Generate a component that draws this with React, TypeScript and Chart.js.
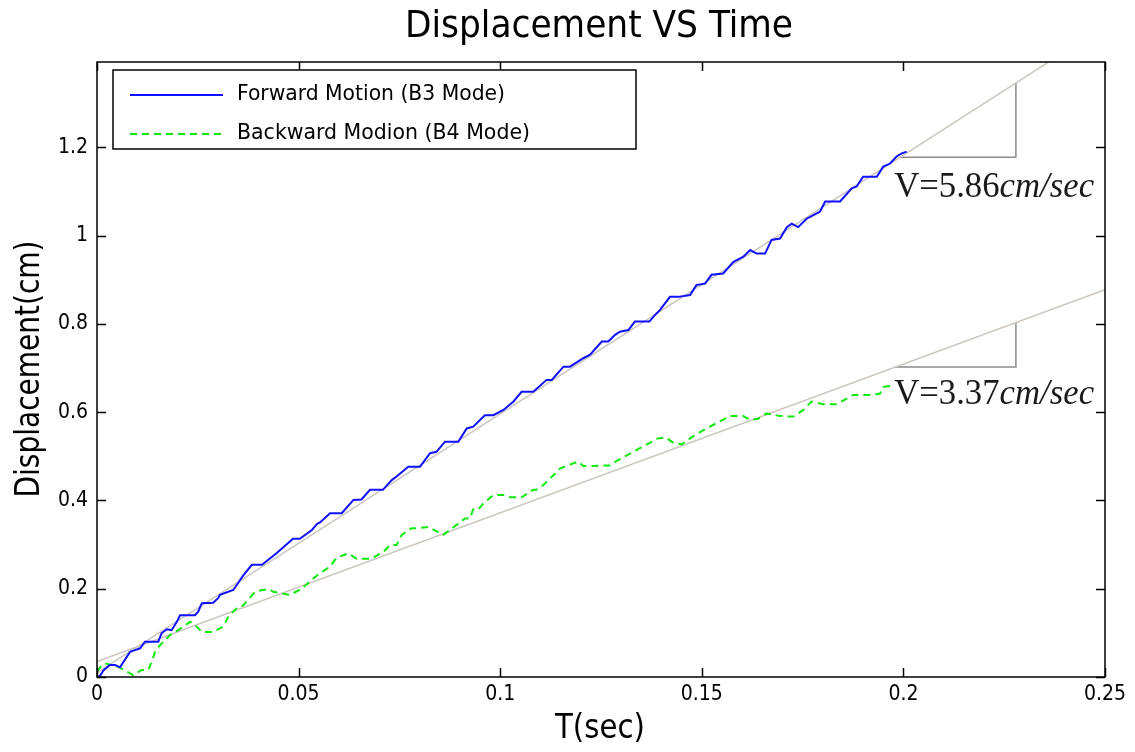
import React, { useEffect, useRef } from 'react';
import { Chart, registerables } from 'chart.js';

Chart.register(...registerables);

// ---------- data ----------
const chartTitle = 'Displacement VS Time';
const xAxisTitle = 'T(sec)';
const yAxisTitle = 'Displacement(cm)';
const timeTicks = [0, 0.05, 0.1, 0.15, 0.2, 0.25];
const dispTicks = [0, 0.2, 0.4, 0.6, 0.8, 1, 1.2];
const xMin = 0;
const xMax = 0.25;
const yMin = 0;
const yMax = 1.393;

const forwardLabel = 'Forward Motion (B3 Mode)';
const backwardLabel = 'Backward Modion (B4 Mode)';

const forwardT = [
  0, 0.0007, 0.0016, 0.0032, 0.0045, 0.0057, 0.0082, 0.0094, 0.0107, 0.0119,
  0.0152, 0.016, 0.0173, 0.0185, 0.0198, 0.0206, 0.0243, 0.0251, 0.026, 0.0288,
  0.0301, 0.0305, 0.0338, 0.035, 0.0362, 0.0384, 0.0409, 0.0446, 0.0486, 0.0503,
  0.0533, 0.0546, 0.0553, 0.0578, 0.0607, 0.0636, 0.0656, 0.0677, 0.0709, 0.0731,
  0.0743, 0.0772, 0.0801, 0.0826, 0.0842, 0.0863, 0.0896, 0.0917, 0.0933, 0.0962,
  0.0983, 0.1008, 0.1033, 0.1053, 0.1082, 0.1115, 0.1128, 0.1157, 0.1173, 0.1206,
  0.1223, 0.1252, 0.1268, 0.1285, 0.1297, 0.1318, 0.1334, 0.137, 0.1384, 0.1396,
  0.1421, 0.1442, 0.1471, 0.1487, 0.1508, 0.1524, 0.1553, 0.1578, 0.1603, 0.162,
  0.1636, 0.1657, 0.1673, 0.1694, 0.1711, 0.1723, 0.1739, 0.176, 0.1793, 0.1806,
  0.1843, 0.1872, 0.1884, 0.19, 0.1934, 0.195, 0.1967, 0.1983, 0.1996, 0.2008,
];
const forwardV = [
  0, 0.002, 0.015, 0.027, 0.027, 0.022, 0.057, 0.061, 0.065, 0.08,
  0.08, 0.099, 0.108, 0.106, 0.125, 0.14, 0.14, 0.148, 0.167, 0.168,
  0.179, 0.186, 0.197, 0.213, 0.229, 0.254, 0.254, 0.281, 0.313, 0.313,
  0.333, 0.347, 0.35, 0.371, 0.371, 0.401, 0.402, 0.424, 0.424, 0.446,
  0.454, 0.476, 0.476, 0.507, 0.51, 0.533, 0.533, 0.563, 0.567, 0.593,
  0.593, 0.605, 0.624, 0.646, 0.646, 0.673, 0.673, 0.703, 0.703, 0.722,
  0.73, 0.76, 0.76, 0.775, 0.782, 0.786, 0.805, 0.805, 0.82, 0.831,
  0.861, 0.861, 0.865, 0.888, 0.891, 0.911, 0.914, 0.94, 0.952, 0.967,
  0.959, 0.959, 0.99, 0.993, 1.019, 1.027, 1.019, 1.038, 1.054, 1.077,
  1.077, 1.107, 1.111, 1.133, 1.133, 1.156, 1.163, 1.179, 1.186, 1.19,
];

const backwardT = [
  0, 0.0012, 0.002, 0.0053, 0.0082, 0.009, 0.0111, 0.0127, 0.0136, 0.0144,
  0.0156, 0.0169, 0.0181, 0.0193, 0.0231, 0.0243, 0.026, 0.0288, 0.0313, 0.0326,
  0.0338, 0.035, 0.0363, 0.0388, 0.0408, 0.0429, 0.0437, 0.0479, 0.0487, 0.0508,
  0.0532, 0.0553, 0.0578, 0.0594, 0.0623, 0.0644, 0.0681, 0.0711, 0.0727, 0.0743,
  0.0756, 0.078, 0.0797, 0.0822, 0.0859, 0.0913, 0.0925, 0.0933, 0.0946, 0.0958,
  0.0983, 0.1008, 0.1024, 0.1053, 0.1082, 0.109, 0.1107, 0.1132, 0.1148, 0.1169,
  0.1194, 0.1206, 0.1231, 0.1256, 0.1272, 0.129, 0.132, 0.135, 0.137, 0.139,
  0.141, 0.143, 0.145, 0.147, 0.149, 0.1504, 0.152, 0.157, 0.1603, 0.162,
  0.164, 0.1661, 0.169, 0.1711, 0.1727, 0.1752, 0.1772, 0.1801, 0.1834, 0.1876,
  0.1925, 0.1942, 0.195, 0.1974,
];
const backwardV = [
  0.012, 0.027, 0.031, 0.023, 0.008, 0.004, 0.016, 0.016, 0.035, 0.057,
  0.072, 0.083, 0.095, 0.101, 0.125, 0.118, 0.102, 0.102, 0.114, 0.137,
  0.148, 0.159, 0.162, 0.189, 0.197, 0.198, 0.193, 0.186, 0.19, 0.2,
  0.22, 0.235, 0.25, 0.27, 0.28, 0.268, 0.268, 0.284, 0.299, 0.299,
  0.322, 0.337, 0.337, 0.34, 0.322, 0.359, 0.359, 0.38, 0.38, 0.393,
  0.412, 0.412, 0.407, 0.407, 0.424, 0.424, 0.435, 0.457, 0.472, 0.48,
  0.488, 0.478, 0.478, 0.479, 0.479, 0.49, 0.505, 0.52, 0.53, 0.54,
  0.543, 0.53, 0.527, 0.54, 0.552, 0.559, 0.567, 0.591, 0.591, 0.582,
  0.585, 0.597, 0.592, 0.59, 0.59, 0.605, 0.624, 0.618, 0.618, 0.639,
  0.639, 0.642, 0.657, 0.66,
];

// fitted lines (start / end of each straight line)
const fitForwardT = [0, 0.25];
const fitForwardV = [0.01, 1.475];
const fitBackwardT = [0, 0.25];
const fitBackwardV = [0.035, 0.8775];

// slope triangles
const triForwardT = [0.1992, 0.2279, 0.2279];
const triForwardV = [1.177, 1.177, 1.345];
const triBackwardT = [0.1978, 0.2279, 0.2279];
const triBackwardV = [0.702, 0.702, 0.803];

const forwardSpeedMain = 'V=5.86';
const backwardSpeedMain = 'V=3.37';
const speedUnit = 'cm/sec';
// annotation anchor (data coords: left edge, vertical centre)
const forwardNoteAt = [0.1977, 1.108];
const backwardNoteAt = [0.1977, 0.64];

// ---------- helpers ----------
const SANS = "'Liberation Sans Narrow', 'DejaVu Sans Condensed', 'Liberation Sans', Arial, sans-serif";
const TICKFONT = "'DejaVu Sans Condensed', 'DejaVu Sans', sans-serif";
const SERIF = "'Liberation Serif', 'DejaVu Serif', serif";

const pts = (t: number[], v: number[]) => t.map((x, i) => ({ x, y: v[i] }));

function fitText(
  ctx: CanvasRenderingContext2D,
  text: string,
  x: number,
  y: number,
  width: number,
  font: string,
  align: CanvasTextAlign,
  rotate = 0
) {
  ctx.save();
  ctx.font = font;
  const m = ctx.measureText(text).width;
  const s = width / m;
  ctx.translate(x, y);
  if (rotate) ctx.rotate(rotate);
  ctx.scale(s, 1);
  ctx.textAlign = align;
  ctx.textBaseline = 'middle';
  ctx.fillStyle = '#000';
  ctx.fillText(text, 0, 0);
  ctx.restore();
}

const decorPlugin = {
  id: 'decor',
  afterDraw(chart: any) {
    const ctx: CanvasRenderingContext2D = chart.ctx;
    const { left, right, top, bottom } = chart.chartArea;
    const xs = chart.scales.x;
    const ys = chart.scales.y;

    // box
    ctx.save();
    ctx.strokeStyle = '#000';
    ctx.lineWidth = 1.5;
    ctx.strokeRect(left, top, right - left, bottom - top);
    // inward ticks
    const tl = 9;
    ctx.beginPath();
    timeTicks.forEach((v) => {
      const px = Math.round(xs.getPixelForValue(v)) + 0.5;
      ctx.moveTo(px, bottom);
      ctx.lineTo(px, bottom - tl);
      ctx.moveTo(px, top);
      ctx.lineTo(px, top + tl);
    });
    dispTicks.forEach((v) => {
      const py = Math.round(ys.getPixelForValue(v)) + 0.5;
      ctx.moveTo(left, py);
      ctx.lineTo(left + tl, py);
      ctx.moveTo(right, py);
      ctx.lineTo(right - tl, py);
    });
    ctx.stroke();
    ctx.restore();

    // legend
    const lx = 113, ly = 70, lw = 523, lh = 79;
    ctx.save();
    ctx.fillStyle = '#fff';
    ctx.fillRect(lx, ly, lw, lh);
    ctx.strokeStyle = '#000';
    ctx.lineWidth = 1.5;
    ctx.strokeRect(lx, ly, lw, lh);
    const items = [
      { ds: chart.data.datasets[0], y: 95, w: 268 },
      { ds: chart.data.datasets[1], y: 134, w: 293 },
    ];
    items.forEach((it) => {
      ctx.save();
      ctx.strokeStyle = it.ds.borderColor;
      ctx.lineWidth = it.ds.borderWidth;
      ctx.setLineDash(it.ds.borderDash || []);
      ctx.beginPath();
      ctx.moveTo(130, it.y);
      ctx.lineTo(223, it.y);
      ctx.stroke();
      ctx.restore();
      fitText(ctx, it.ds.label, 237, it.y, it.w, `21px ${SANS}`, 'left');
    });
    ctx.restore();

    // speed annotations
    const note = (main: string, at: number[]) => {
      const x = xs.getPixelForValue(at[0]);
      const y = ys.getPixelForValue(at[1]);
      ctx.save();
      const f1 = `35px ${SERIF}`;
      const f2 = `italic 35px ${SERIF}`;
      ctx.font = f1;
      const w1 = ctx.measureText(main).width;
      ctx.font = f2;
      const w2 = ctx.measureText(speedUnit).width;
      const s = 200 / (w1 + w2);
      ctx.translate(x, y);
      ctx.scale(s, 1);
      ctx.fillStyle = '#1a1a1a';
      ctx.textBaseline = 'middle';
      ctx.textAlign = 'left';
      ctx.font = f1;
      ctx.fillText(main, 0, 0);
      ctx.font = f2;
      ctx.fillText(speedUnit, w1, 0);
      ctx.restore();
    };
    note(forwardSpeedMain, forwardNoteAt);
    note(backwardSpeedMain, backwardNoteAt);

    // titles
    fitText(ctx, chartTitle, 599, 27, 388, `38px ${SANS}`, 'center');
    fitText(ctx, xAxisTitle, 600, 729, 90, `33px ${SANS}`, 'center');
    fitText(ctx, yAxisTitle, 30, 369, 257, `33px ${SANS}`, 'center', -Math.PI / 2);
  },
};

export default function App() {
  const ref = useRef<HTMLCanvasElement | null>(null);

  useEffect(() => {
    if (!ref.current) return;
    const chart = new Chart(ref.current, {
      type: 'line',
      data: {
        datasets: [
          {
            label: forwardLabel,
            data: pts(forwardT, forwardV),
            borderColor: '#1010ff',
            borderWidth: 2,
            pointRadius: 0,
            tension: 0,
          },
          {
            label: backwardLabel,
            data: pts(backwardT, backwardV),
            borderColor: '#10e810',
            borderWidth: 2,
            borderDash: [7, 5],
            pointRadius: 0,
            tension: 0,
          },
          {
            label: 'fit forward',
            data: pts(fitForwardT, fitForwardV),
            borderColor: '#cbc5bf',
            borderWidth: 1.5,
            pointRadius: 0,
          },
          {
            label: 'fit backward',
            data: pts(fitBackwardT, fitBackwardV),
            borderColor: '#cbc5bf',
            borderWidth: 1.5,
            pointRadius: 0,
          },
          {
            label: 'slope forward',
            data: pts(triForwardT, triForwardV),
            borderColor: '#8c8c8c',
            borderWidth: 1.5,
            pointRadius: 0,
          },
          {
            label: 'slope backward',
            data: pts(triBackwardT, triBackwardV),
            borderColor: '#8c8c8c',
            borderWidth: 1.5,
            pointRadius: 0,
          },
        ],
      },
      options: {
        responsive: false,
        animation: false,
        layout: { padding: { top: 62, right: 30, left: 0, bottom: 0 } },
        plugins: {
          legend: { display: false },
          title: { display: false },
          tooltip: { enabled: false },
        },
        scales: {
          x: {
            type: 'linear',
            min: xMin,
            max: xMax,
            grid: { display: false, drawTicks: false },
            border: { display: false },
            afterBuildTicks: (s: any) => {
              s.ticks = timeTicks.map((v) => ({ value: v }));
            },
            afterFit: (s: any) => {
              s.height = 75;
            },
            ticks: {
              autoSkip: false,
              maxRotation: 0,
              padding: 5,
              color: '#000',
              font: { family: TICKFONT, size: 21 },
              callback: (v: any) => String(v),
            },
          },
          y: {
            type: 'linear',
            min: yMin,
            max: yMax,
            grid: { display: false, drawTicks: false },
            border: { display: false },
            afterBuildTicks: (s: any) => {
              s.ticks = dispTicks.map((v) => ({ value: v }));
            },
            afterFit: (s: any) => {
              s.width = 97;
            },
            ticks: {
              padding: 9,
              color: '#000',
              font: { family: TICKFONT, size: 21 },
              callback: (v: any) => String(v),
            },
          },
        },
      },
      plugins: [decorPlugin],
    } as any);
    return () => chart.destroy();
  }, []);

  return (
    <div style={{ position: 'absolute', left: 0, top: 0, width: 1135, height: 752, background: '#fff' }}>
      <canvas ref={ref} width={1135} height={752} style={{ display: 'block' }} />
    </div>
  );
}
